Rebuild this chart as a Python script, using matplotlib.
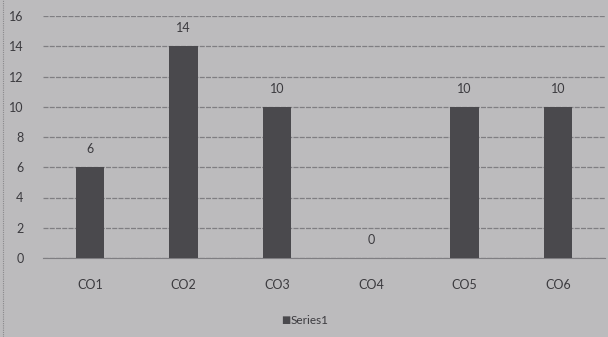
import matplotlib.pyplot as plt
import numpy as np

plt.rcParams['font.family'] = ['Lato', 'DejaVu Sans']

categories = ['CO1', 'CO2', 'CO3', 'CO4', 'CO5', 'CO6']
values = [6, 14, 10, 0, 10, 10]
y_ticks = [0, 2, 4, 6, 8, 10, 12, 14, 16]

bg = '#bcbbbd'
bar_color = '#4a494d'
text_color = '#3c3b3f'
grid_color = '#7f7e82'


def main():
    fig = plt.figure(figsize=(6.08, 3.37), dpi=100, facecolor=bg)
    ax = fig.add_axes([43 / 608, 79 / 337, 562 / 608, 242 / 337])
    ax.set_facecolor(bg)

    x = np.arange(len(categories))
    ax.bar(x, values, width=0.3, color=bar_color, zorder=3)

    for xi, v in zip(x, values):
        ax.annotate(str(v), (xi, v), xytext=(0, 13), textcoords='offset points',
                    ha='center', va='center', fontsize=9, color=text_color)

    ax.set_xlim(-0.5, len(categories) - 0.5)
    ax.set_ylim(0, 16)
    ax.set_yticks(y_ticks)
    ax.set_xticks(x)
    ax.set_xticklabels(categories)
    ax.tick_params(axis='both', length=0, labelsize=9, colors=text_color)
    ax.tick_params(axis='y', pad=14)
    ax.tick_params(axis='x', pad=15)

    ax.grid(axis='y', color=grid_color, linewidth=0.9, linestyle=(0, (4, 1)), zorder=1)
    for side in ['top', 'right', 'left']:
        ax.spines[side].set_visible(False)
    ax.spines['bottom'].set_color(grid_color)
    ax.spines['bottom'].set_linestyle((0, (4, 1)))

    # legend below the plot
    ly = (337 - 321) / 337
    fig.text(0.470, ly, '\u25a0', ha='center', va='center', fontsize=7, color=bar_color)
    fig.text(0.478, ly, 'Series1', ha='left', va='center', fontsize=8.5, color=text_color)

    # left border of the page
    fig.add_artist(plt.Line2D([3 / 608, 3 / 608], [0, 1], transform=fig.transFigure,
                              color='#8a898c', linewidth=0.8, linestyle=(0, (1, 1))))

    fig.savefig('out.png', dpi=100, facecolor=bg)


if __name__ == "__main__":
    main()
